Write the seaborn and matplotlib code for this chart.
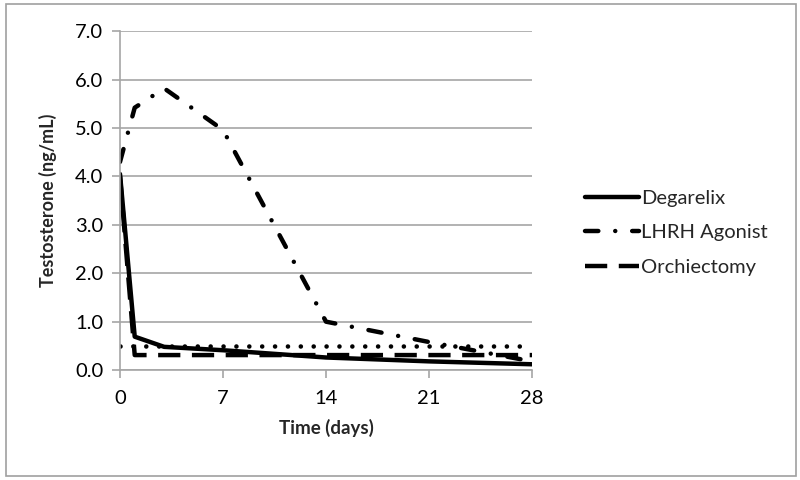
import matplotlib
matplotlib.use("Agg")
import matplotlib.pyplot as plt
import matplotlib.patches as mpatches
import seaborn as sns

# ---------- Data ----------
degarelix_days = [0, 1, 3, 7, 14, 21, 28]
degarelix_vals = [4.05, 0.69, 0.48, 0.41, 0.26, 0.18, 0.12]

lhrh_days = [0, 1, 3, 7, 14, 21, 28]
lhrh_vals = [4.3, 5.42, 5.82, 4.96, 1.0, 0.58, 0.18]

orchi_days = [0, 1, 28]
orchi_vals = [4.0, 0.31, 0.31]

castrate_days = [0, 28]
castrate_vals = [0.5, 0.5]

x_ticks = [0, 7, 14, 21, 28]
y_ticks = [0, 1, 2, 3, 4, 5, 6, 7]

sns.set_style("white")
plt.rcParams['font.family'] = ['Lato', 'DejaVu Sans']

fig = plt.figure(figsize=(8, 4.8), dpi=100)
ax = fig.add_axes([0.15, 0.229, 0.515, 0.706])

grid_col = "#a6a6a6"

# castration threshold (dotted, not in legend)
sns.lineplot(x=castrate_days, y=castrate_vals, ax=ax, color="black", lw=3.3,
             legend=False)
ax.lines[-1].set_dashes((0.01, 2.8))
ax.lines[-1].set_dash_capstyle("round")

sns.lineplot(x=degarelix_days, y=degarelix_vals, ax=ax, color="black", lw=3.2,
             label="Degarelix")

sns.lineplot(x=lhrh_days, y=lhrh_vals, ax=ax, color="black", lw=3.2,
             label="LHRH Agonist")
ax.lines[-1].set_dashes((3.0, 3.8, 0.01, 3.8))
ax.lines[-1].set_dash_capstyle("round")

sns.lineplot(x=orchi_days, y=orchi_vals, ax=ax, color="black", lw=3.2,
             label="Orchiectomy")
ax.lines[-1].set_dashes((5.0, 2.6))

handles, labels = ax.get_legend_handles_labels()
ax.get_legend().remove()

ax.set_xlim(0, 28)
ax.set_ylim(0, 7)
ax.set_xticks(x_ticks)
ax.set_yticks(y_ticks)
ax.set_yticklabels([f"{v:.1f}" for v in y_ticks])
ax.tick_params(axis="both", labelsize=14.5, colors=grid_col, labelcolor="black",
               length=6, width=1.2, direction="out")
ax.tick_params(axis="x", bottom=True, pad=8)
ax.tick_params(axis="y", left=True, pad=6)

ax.yaxis.grid(True, color=grid_col, lw=1.2)
ax.set_axisbelow(True)
for s in ["top", "right"]:
    ax.spines[s].set_visible(False)
for s in ["left", "bottom"]:
    ax.spines[s].set_color(grid_col)
    ax.spines[s].set_linewidth(1.2)

ax.set_xlabel("Time (days)", fontsize=13.5, fontweight="bold", labelpad=9)
ax.set_ylabel("Testosterone (ng/mL)", fontsize=13, fontweight="bold", labelpad=13)

fig.legend(handles, labels, loc="center left", bbox_to_anchor=(0.708, 0.515),
           frameon=False, fontsize=14.5, handlelength=2.7, handletextpad=0.1,
           labelspacing=0.85)

fig.patches.append(mpatches.Rectangle((0.007, 0.008), 0.988, 0.984,
                                      transform=fig.transFigure, fill=False,
                                      edgecolor="#a0a0a0", lw=1.2))

fig.savefig("out.png", dpi=100)
